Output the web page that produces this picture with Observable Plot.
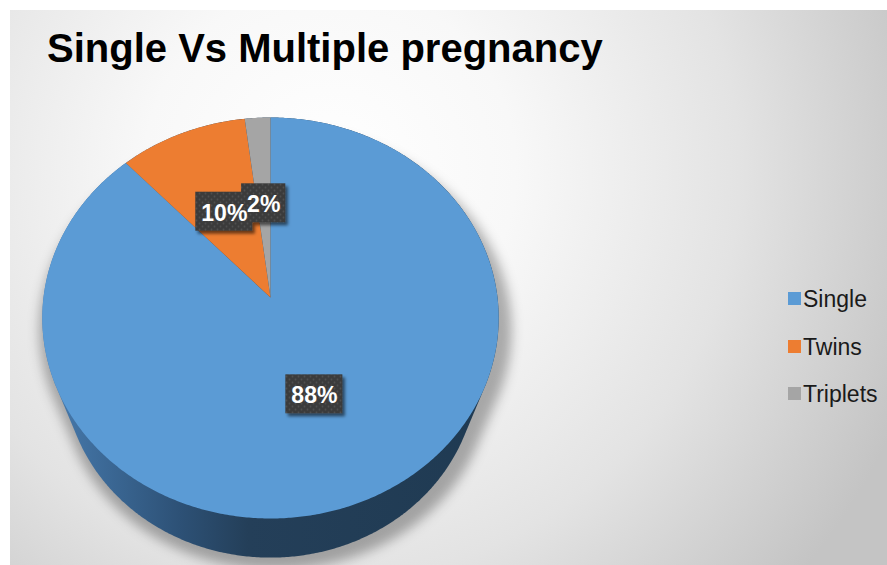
<!DOCTYPE html>
<html><head><meta charset="utf-8">
<script src="https://cdn.jsdelivr.net/npm/d3@7"></script>
<script src="https://cdn.jsdelivr.net/npm/@observablehq/plot@0.6"></script>
<style>
html,body{margin:0;padding:0;background:#fff;}
#wrap{position:relative;width:887px;height:565px;overflow:hidden;font-family:"Liberation Sans",Arial,sans-serif;}
#panel{position:absolute;left:10px;top:10px;width:877px;height:555px;background:radial-gradient(circle 620px at 320px 160px,#ffffff 0%,#f8f8f8 30%,#e3e3e3 66%,#c4c4c4 100%);}
#chart{position:absolute;left:0;top:0;}
#title{position:absolute;left:47px;top:28px;font-weight:bold;font-size:40px;line-height:40px;color:#000;white-space:nowrap;}
.lt{position:absolute;left:803px;font-size:23px;line-height:23px;color:#1a1a1a;white-space:nowrap;}
.sw{position:absolute;left:788px;width:13px;height:13px;}
</style></head>
<body>
<div id="wrap">
  <div id="panel"></div>
  <div id="chart"></div>
  <div id="title"></div>
  <div id="legend"></div>
</div>
<script>
const titleText = "Single Vs Multiple pregnancy";
const categories = ["Single", "Twins", "Triplets"];
const values = [88, 10, 2];
const labels = ["88%", "10%", "2%"];
const colors = ["#5b9bd5", "#ed7d31", "#a5a5a5"];

// perspective projection of a tilted disk
const CX = 270, AY = 297, D = 4.75, K = 227 * D;
const sT = 0.874, cT = 0.4857, H = 0.563;
function project(X, Z, h = 0) {
  const y3 = Z * sT - h * cT;
  const z3 = D + Z * cT + h * sT;
  return [CX + K * X / z3, AY - K * y3 / z3];
}

const data = categories.map((name, i) => ({name, value: values[i], label: labels[i]}));
const arcs = d3.pie().sort(null).value(d => d.value)(data);

// top face slices
const slicePts = [];
for (const a of arcs) {
  const apex = project(0, 0);
  slicePts.push({name: a.data.name, x: apex[0], y: apex[1]});
  const n = Math.max(2, Math.ceil((a.endAngle - a.startAngle) / (Math.PI / 360)));
  for (let k = 0; k <= n; k++) {
    const t = a.startAngle + (a.endAngle - a.startAngle) * k / n;
    const [x, y] = project(Math.sin(t), Math.cos(t));
    slicePts.push({name: a.data.name, x, y});
  }
}

// side (hull of top and bottom rims)
const rim = [];
for (let k = 0; k < 720; k++) {
  const t = k / 720 * 2 * Math.PI;
  rim.push(project(Math.sin(t), Math.cos(t)));
  rim.push(project(Math.sin(t), Math.cos(t), H));
}
const hull = d3.polygonHull(rim).map(([x, y]) => ({x, y}));
const shadow = hull.map(({x, y}) => ({x: CX + 5 + (x - CX) * 1.035, y: y + 12}));

// labels
const ctx = document.createElement("canvas").getContext("2d");
ctx.font = "bold 23px 'Liberation Sans', Arial, sans-serif";
const labelData = arcs.map(a => {
  const m = (a.startAngle + a.endAngle) / 2;
  const [x, y] = project(0.5 * Math.sin(m), 0.5 * Math.cos(m));
  const w = ctx.measureText(a.data.label).width + 11;
  return {label: a.data.label, x, y, x1: x - w / 2, x2: x + w / 2, y1: y - 19.5, y2: y + 19.5};
});

const svg = Plot.plot({
  width: 887, height: 565, margin: 0,
  x: {type: "identity", axis: null},
  y: {type: "identity", axis: null},
  color: {domain: categories, range: colors},
  style: {background: "transparent", overflow: "visible"},
  marks: [
    Plot.line(shadow, {x: "x", y: "y", curve: "linear-closed", fill: "#000", fillOpacity: 0.3, stroke: "none"}),
    Plot.line(hull, {x: "x", y: "y", curve: "linear-closed", fill: "url(#sideGrad)", stroke: "none"}),
    Plot.line(slicePts, {x: "x", y: "y", z: "name", fill: "name", stroke: "none", curve: "linear-closed"}),
    Plot.rect(labelData, {x1: "x1", x2: "x2", y1: "y1", y2: "y2", fill: "url(#dots)"}),
    Plot.text(labelData, {x: "x", y: d => d.y + 1.5, text: "label", fill: "#fff", fontWeight: "bold", fontSize: 23, fontFamily: "'Liberation Sans', Arial, sans-serif", textAnchor: "middle"})
  ]
});

const defs = document.createElementNS("http://www.w3.org/2000/svg", "defs");
defs.innerHTML = `
  <linearGradient id="sideGrad" gradientUnits="userSpaceOnUse" x1="43" y1="0" x2="497" y2="0">
    <stop offset="0" stop-color="#4a7db0"/>
    <stop offset="0.12" stop-color="#3d6b99"/>
    <stop offset="0.3" stop-color="#2d5176"/>
    <stop offset="0.45" stop-color="#243f59"/>
    <stop offset="1" stop-color="#1f3a52"/>
  </linearGradient>
  <pattern id="dots" width="6" height="6" patternUnits="userSpaceOnUse">
    <rect width="6" height="6" fill="#3b3b3b"/>
    <circle cx="1.5" cy="1.5" r="0.9" fill="#4f4f4f"/>
    <circle cx="4.5" cy="4.5" r="0.9" fill="#4f4f4f"/>
  </pattern>
  <filter id="blur" x="-20%" y="-20%" width="140%" height="140%"><feGaussianBlur stdDeviation="6"/></filter>
  <filter id="boxShadow" x="-30%" y="-30%" width="160%" height="160%"><feDropShadow dx="2.5" dy="3" stdDeviation="1.8" flood-color="#000" flood-opacity="0.55"/></filter>`;
svg.insertBefore(defs, svg.firstChild);
const groups = svg.querySelectorAll(":scope > g");
groups[0].setAttribute("filter", "url(#blur)");
groups[3].setAttribute("filter", "url(#boxShadow)");
document.getElementById("chart").appendChild(svg);

document.getElementById("title").textContent = titleText;

const baselines = [307, 355, 402];
const leg = document.getElementById("legend");
categories.forEach((c, i) => {
  const sw = document.createElement("div");
  sw.className = "sw";
  sw.style.top = (baselines[i] - 15) + "px";
  sw.style.background = colors[i];
  leg.appendChild(sw);
  const t = document.createElement("div");
  t.className = "lt";
  t.style.top = (baselines[i] - 19.5) + "px";
  t.textContent = c;
  leg.appendChild(t);
});
</script>
</body></html>
